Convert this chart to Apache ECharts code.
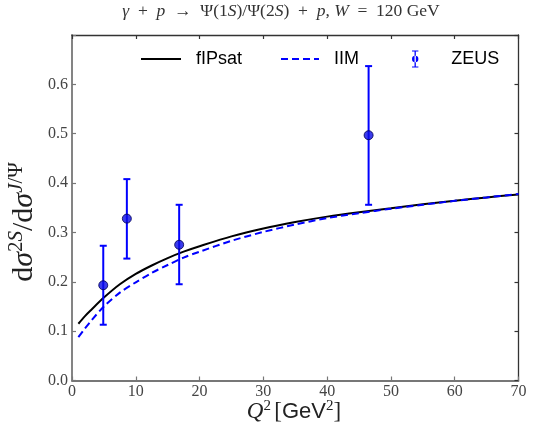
<!DOCTYPE html>
<html>
<head>
<meta charset="utf-8">
<script src="https://cdn.jsdelivr.net/npm/echarts@6/dist/echarts.min.js"></script>
<style>html,body{margin:0;padding:0;background:#fff}#c{width:535px;height:432px}</style>
</head>
<body>
<div id="c"></div>
<script>
// ---- data ----
const qGrid = [1, 2, 3, 5, 7.5, 10, 12.5, 15, 17.5, 20, 25, 30, 35, 40, 45, 50, 55, 60, 65, 70];
const fipsat = [0.115, 0.130, 0.143, 0.168, 0.195, 0.216, 0.233, 0.248, 0.261, 0.272, 0.292, 0.308, 0.321, 0.332, 0.341, 0.349, 0.357, 0.364, 0.371, 0.377];
const iim = [0.088, 0.105, 0.121, 0.150, 0.178, 0.199, 0.218, 0.234, 0.249, 0.261, 0.283, 0.301, 0.316, 0.329, 0.339, 0.348, 0.356, 0.364, 0.371, 0.378];
const zeusQ2 = [4.9, 8.6, 16.8, 46.5];
const zeusVal = [0.193, 0.328, 0.275, 0.497];
const zeusLow = [0.113, 0.247, 0.195, 0.356];
const zeusHigh = [0.273, 0.408, 0.356, 0.637];
const xTicks = [0, 10, 20, 30, 40, 50, 60, 70];
const yTicks = [0.0, 0.1, 0.2, 0.3, 0.4, 0.5, 0.6];

const serif = 'Liberation Serif';
const sans = 'Liberation Sans';
const chart = echarts.init(document.getElementById('c'));

function axisBase(color, width) {
  return {
    type: 'value',
    splitLine: { show: false },
    axisLine: { show: true, onZero: false, lineStyle: { color: color, width: width } },
    axisTick: { show: true, inside: true, length: 4, lineStyle: { color: color, width: 1.2 } }
  };
}

const errIcon = 'path://M1,0 H7 V1 H4.6 V15 H7 V16 H1 V15 H3.4 V1 H1 Z M1,8 A3,3 0 1,0 7,8 A3,3 0 1,0 1,8 Z';
const sp = '\u2002';

chart.setOption({
  animation: false,
  title: {
    text: '{i|γ}' + sp + '+' + sp + '{i|p}' + sp + '→' + sp + 'Ψ(1{i|S})/Ψ(2{i|S})' + sp + '+' + sp + '{i|p}, {i|W}' + sp + '=' + sp + '120 GeV',
    left: 281, top: 2, textAlign: 'center', padding: 0,
    textStyle: {
      fontFamily: serif, fontSize: 17.5, fontWeight: 'normal', color: '#333',
      rich: { i: { fontFamily: serif, fontSize: 17.5, fontStyle: 'italic', color: '#333' } }
    }
  },
  grid: { left: 72, right: 16.5, top: 35, bottom: 51.5 },
  xAxis: [
    Object.assign(axisBase('#777', 1.8), {
      min: 0, max: 70, interval: 10, position: 'bottom',
      axisLabel: { margin: 3, fontFamily: serif, fontSize: 16, color: '#444',
        formatter: v => xTicks.includes(v) ? String(v) : '' }
    }),
    Object.assign(axisBase('#333', 1.3), {
      min: 0, max: 70, interval: 10, position: 'top',
      axisLabel: { show: false }
    })
  ],
  yAxis: [
    Object.assign(axisBase('#777', 1.8), {
      min: 0, max: 0.7, interval: 0.1, position: 'left',
      axisLabel: { margin: 4, fontFamily: serif, fontSize: 16, color: '#444',
        formatter: v => {
          const t = yTicks.find(y => Math.abs(y - v) < 1e-6);
          return t === undefined ? '' : t.toFixed(1);
        } }
    }),
    Object.assign(axisBase('#333', 1.3), {
      min: 0, max: 0.7, interval: 0.1, position: 'right',
      axisLabel: { show: false }
    })
  ],
  legend: [
    { data: ['fIPsat'], left: 140, top: 50, padding: 0, itemWidth: 40, itemHeight: 14, selectedMode: false,
      itemStyle: { opacity: 0 }, lineStyle: { opacity: 1 },
      textStyle: { fontFamily: sans, fontSize: 18, color: '#000', padding: [0, 0, 0, 10] } },
    { data: ['IIM'], left: 280, top: 50, padding: 0, itemWidth: 38, itemHeight: 14, selectedMode: false,
      itemStyle: { opacity: 0 }, lineStyle: { opacity: 1 },
      textStyle: { fontFamily: sans, fontSize: 18, color: '#000', padding: [0, 0, 0, 10] } },
    { data: [{ name: 'ZEUS', icon: errIcon }], left: 412, top: 50, padding: 0, itemWidth: 8, itemHeight: 17, selectedMode: false,
      itemStyle: { color: '#0000ff' },
      textStyle: { fontFamily: sans, fontSize: 18, color: '#000', padding: [0, 0, 0, 27] } }
  ],
  graphic: [
    { type: 'text', x: 24, y: 222, rotation: Math.PI / 2,
      style: {
        text: '{n|d}{i|σ}{su|2}{si|S}{n|/d}{i|σ}{si|J}{su|/Ψ}',
        align: 'center', verticalAlign: 'middle',
        rich: {
          n: { fontFamily: serif, fontSize: 30, fill: '#222' },
          i: { fontFamily: serif, fontSize: 30, fontStyle: 'italic', fill: '#222' },
          su: { fontFamily: serif, fontSize: 21, fill: '#222', padding: [0, 0, 15, 0] },
          si: { fontFamily: serif, fontSize: 21, fontStyle: 'italic', fill: '#222', padding: [0, 0, 15, 0] }
        }
      } },
    { type: 'text', x: 294, y: 412,
      style: {
        text: '{i|Q}{su|2} {n|[}{s|GeV}{su|2}{n|]}',
        align: 'center', verticalAlign: 'middle',
        rich: {
          n: { fontFamily: serif, fontSize: 23, fill: '#222' },
          i: { fontFamily: serif, fontSize: 23, fontStyle: 'italic', fill: '#222' },
          s: { fontFamily: sans, fontSize: 22, fill: '#222' },
          su: { fontFamily: serif, fontSize: 15, fill: '#222', padding: [0, 0, 12, 0] }
        }
      } }
  ],
  series: [
    { name: 'fIPsat', type: 'line', smooth: 0.3, symbol: 'none',
      lineStyle: { color: '#000', width: 2 }, itemStyle: { color: '#000' },
      data: qGrid.map((q, i) => [q, fipsat[i]]), z: 2 },
    { name: 'IIM', type: 'line', smooth: 0.3, symbol: 'none',
      lineStyle: { color: '#0000ff', width: 2, type: [7, 4] }, itemStyle: { color: '#0000ff' },
      data: qGrid.map((q, i) => [q, iim[i]]), z: 3 },
    { name: 'ZEUS', type: 'custom', z: 4,
      itemStyle: { color: '#0000ff' },
      data: zeusQ2.map((q, i) => [q, zeusLow[i], zeusHigh[i]]),
      renderItem: function (params, api) {
        const lo = api.coord([api.value(0), api.value(1)]);
        const hi = api.coord([api.value(0), api.value(2)]);
        const w = 3.5;
        const st = { stroke: '#0000ff', lineWidth: 2 };
        return { type: 'group', children: [
          { type: 'line', shape: { x1: lo[0], y1: lo[1], x2: hi[0], y2: hi[1] }, style: st },
          { type: 'line', shape: { x1: lo[0] - w, y1: lo[1], x2: lo[0] + w, y2: lo[1] }, style: st },
          { type: 'line', shape: { x1: hi[0] - w, y1: hi[1], x2: hi[0] + w, y2: hi[1] }, style: st }
        ] };
      } },
    { name: 'ZEUS', type: 'scatter', z: 5, symbolSize: 9,
      itemStyle: { color: '#0a0ae6', borderColor: '#000050', borderWidth: 1 },
      data: zeusQ2.map((q, i) => [q, zeusVal[i]]) }
  ]
});
</script>
</body>
</html>
